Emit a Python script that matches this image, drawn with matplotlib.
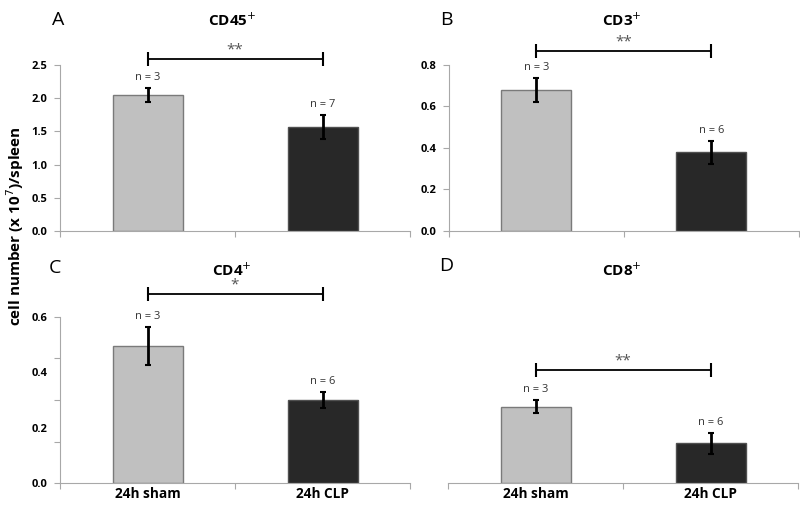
import matplotlib.pyplot as plt
import numpy as np

plt.rcParams['font.family'] = ['Open Sans', 'DejaVu Sans']

groups = ['24h sham', '24h CLP']
panel_letters = ['A', 'B', 'C', 'D']
titles = ['CD45$^{+}$', 'CD3$^{+}$', 'CD4$^{+}$', 'CD8$^{+}$']
means = [[2.05, 1.57], [0.68, 0.38], [0.494, 0.30], [0.276, 0.144]]
errs = [[0.10, 0.18], [0.058, 0.055], [0.068, 0.03], [0.024, 0.038]]
n_labels = [['n = 3', 'n = 7'], ['n = 3', 'n = 6'], ['n = 3', 'n = 6'], ['n = 3', 'n = 6']]
stars = ['**', '**', '*', '**']
sig_y = [2.585, 0.866, 0.68, 0.408]
ylims = [2.5, 0.8, 0.6, 0.6]
ytick_labels = [[0, 0.5, 1.0, 1.5, 2.0, 2.5], [0, 0.2, 0.4, 0.6, 0.8], [0, 0.2, 0.4, 0.6], []]
ytick_marks = [[0, 0.5, 1.0, 1.5, 2.0, 2.5], [0, 0.2, 0.4, 0.6, 0.8], [0, 0.15, 0.3, 0.45, 0.6], []]

colors = ['#c0c0c0', '#282828']
edges = ['#7a7a7a', '#505050']
axcol = '#a8a8a8'

fig = plt.figure(figsize=(8, 5.05), dpi=100)
boxes = [[0.075, 0.5426, 0.4375, 0.3287],
         [0.561, 0.5426, 0.4375, 0.3287],
         [0.075, 0.043, 0.4375, 0.3299],
         [0.560, 0.043, 0.4375, 0.3299]]
# title / letter positions in pixels (x, y from top)
title_pos = [(232, 20), (622, 20), (232, 270), (622, 270)]
letter_pos = [(58, 20), (446, 20), (55, 268), (446, 266)]

for i in range(4):
    ax = fig.add_axes(boxes[i])
    x = np.arange(len(groups))
    ax.bar(x, means[i], width=0.4, color=colors, edgecolor=edges, linewidth=1, zorder=2)
    ax.errorbar(x, means[i], yerr=errs[i], fmt='none', ecolor='black',
                elinewidth=2, capsize=2, capthick=1.5, zorder=3)
    ax.set_xlim(-0.5, 1.5)
    ax.set_ylim(0, ylims[i])
    ymax = ylims[i]
    # significance bracket
    ax.plot([0, 1], [sig_y[i], sig_y[i]], color='black', lw=1.3, clip_on=False,
            marker='|', markersize=10, markeredgewidth=1.5)
    ax.text(0.5, sig_y[i] + ymax * 0.01, stars[i], ha='center', va='bottom',
            fontsize=11, color='#555555', clip_on=False)
    for j in range(2):
        ax.text(x[j], means[i][j] + errs[i][j] + ymax * 0.03, n_labels[i][j],
                ha='center', va='bottom', fontsize=8, color='#333333')
    for s in ['top', 'right']:
        ax.spines[s].set_visible(False)
    ax.spines['bottom'].set_color(axcol)
    ax.spines['left'].set_color(axcol)
    ax.xaxis.remove_overlapping_locs = False
    ax.yaxis.remove_overlapping_locs = False
    # x ticks between categories
    ax.set_xticks([-0.5, 0.5, 1.5])
    ax.set_xticklabels([])
    ax.tick_params(axis='x', which='major', length=4, color=axcol)
    ax.set_xticks(x, minor=True)
    if i >= 2:
        ax.set_xticklabels(groups, minor=True, fontsize=9.8, fontweight='bold')
    ax.tick_params(axis='x', which='minor', length=0, pad=3)
    # y ticks
    if i == 3:
        ax.spines['left'].set_visible(False)
        ax.set_yticks([])
    else:
        ax.set_yticks(ytick_marks[i])
        ax.set_yticklabels([])
        ax.tick_params(axis='y', which='major', length=4, color=axcol)
        ax.set_yticks(ytick_labels[i], minor=True)
        ax.set_yticklabels(['%.1f' % v for v in ytick_labels[i]], minor=True,
                           fontsize=8, fontweight='bold')
        ax.tick_params(axis='y', which='minor', length=0, pad=9)
    tx, ty = title_pos[i]
    fig.text(tx / 800, 1 - ty / 505, titles[i], fontsize=11, fontweight='bold',
             ha='center', va='center')
    lx, ly = letter_pos[i]
    fig.text(lx / 800, 1 - ly / 505, panel_letters[i], fontsize=14,
             ha='center', va='center')

fig.text(0.019, 0.552, 'cell number (x 10$^{7}$)/spleen', rotation=90, ha='center',
         va='center', fontsize=11, fontweight='bold')

fig.savefig('out.png', dpi=100)
